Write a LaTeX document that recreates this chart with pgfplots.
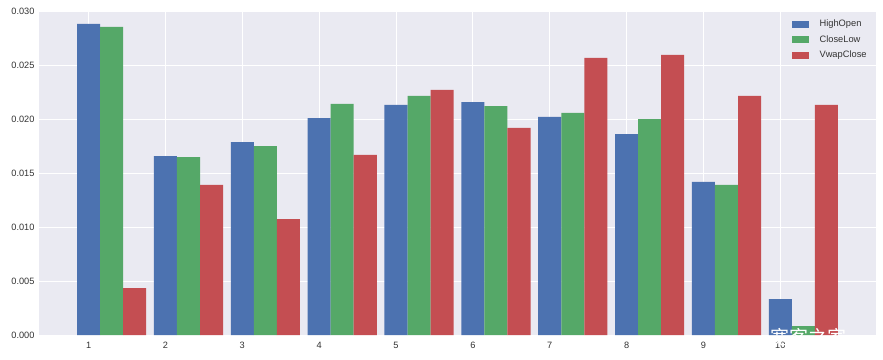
\documentclass[border=0pt]{standalone}
\usepackage{pgfplots}
\pgfplotsset{compat=1.18}
\usepackage{fontspec}
\setmainfont{Liberation Sans}
\newfontfamily\cjk{Noto Sans CJK SC}
\definecolor{sbblue}{HTML}{4C72B0}
\definecolor{sbgreen}{HTML}{55A868}
\definecolor{sbred}{HTML}{C44E52}
\definecolor{sbbg}{HTML}{EAEAF2}
\definecolor{sbtext}{HTML}{333333}
\begin{document}
\begin{tikzpicture}
\begin{axis}[
  scale only axis,
  width=837pt, height=324pt,
  xmin=0.355, xmax=11.245,
  ymin=0, ymax=0.030,
  ybar, bar width=0.3,
  axis background/.style={fill=sbbg},
  axis line style={draw=none},
  major tick length=0pt,
  grid=major,
  major grid style={white, line width=1pt},
  xtick={1,...,10},
  ytick={0,0.005,0.010,0.015,0.020,0.025,0.030},
  scaled y ticks=false,
  yticklabel style={/pgf/number format/fixed, /pgf/number format/precision=3, /pgf/number format/fixed zerofill},
  /pgf/number format/assume math mode=true,
  tick label style={font=\fontsize{9.2}{10}\selectfont, text=sbtext},
  xticklabel style={yshift=-4pt},
  yticklabel style={xshift=-1pt},
  legend style={draw=none, fill=none, at={(0.995,0.985)}, anchor=north east,
    font=\fontsize{9.3}{10}\selectfont, text=sbtext, row sep=3.2pt,
    /tikz/every odd column/.append style={column sep=9pt}},
  legend cell align=left,
  legend image code/.code={\fill[#1] (0pt,-3.5pt) rectangle (17pt,3.5pt);},
]
\addplot[fill=sbblue, draw=none, bar shift=0] coordinates {
(1,0.0288) (2,0.01657) (3,0.01787) (4,0.02009) (5,0.0213)
(6,0.02157) (7,0.02019) (8,0.01861) (9,0.01417) (10,0.00333)};
\addplot[fill=sbgreen, draw=none, bar shift=0.3] coordinates {
(1,0.02852) (2,0.01648) (3,0.0175) (4,0.02139) (5,0.02213)
(6,0.0212) (7,0.02056) (8,0.0200) (9,0.01389) (10,0.00083)};
\addplot[fill=sbred, draw=none, bar shift=0.6] coordinates {
(1,0.00435) (2,0.01389) (3,0.01074) (4,0.01667) (5,0.02269)
(6,0.01917) (7,0.02565) (8,0.02593) (9,0.02213) (10,0.0213)};
\legend{HighOpen, CloseLow, VwapClose}
\end{axis}
\node[anchor=north west, inner sep=0pt, text=white, font=\cjk\fontsize{19}{19}\selectfont] at (731pt,7pt) {宽客之家};
\pgfresetboundingbox
\path (-39pt,-24pt) rectangle (844pt,335pt);
\end{tikzpicture}
\end{document}
